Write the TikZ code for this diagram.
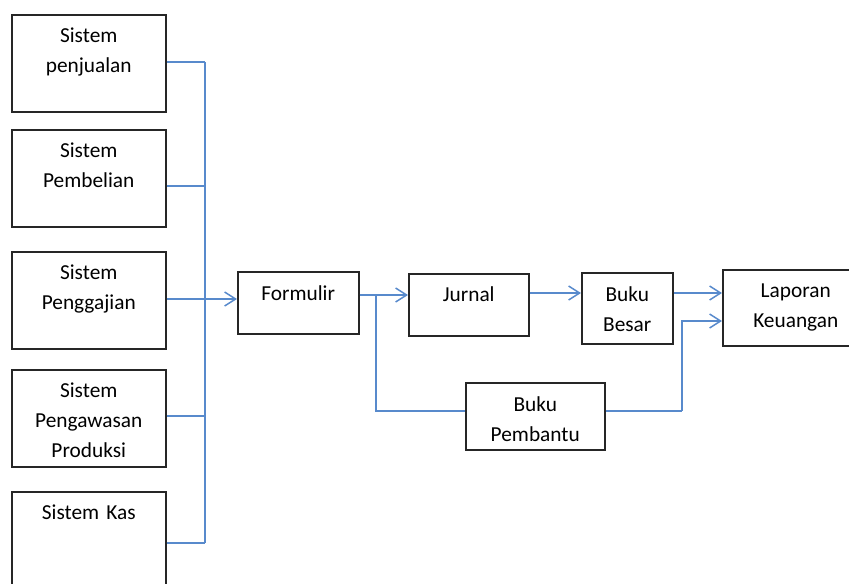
\documentclass[tikz,border=0pt]{standalone}
\usepackage{fontspec}
\setmainfont{Carlito}
\usetikzlibrary{arrows.meta}
\definecolor{garisbiru}{RGB}{88,138,204}

\begin{document}
\begin{tikzpicture}[x=0.75pt,y=-0.75pt]
  \def\f{0.75}

\tikzstyle{kotak}=[draw=black!85,line width=1.5*\f pt,anchor=north west,inner sep=0pt,align=center,font=\fontsize{16}{22.5}\selectfont]
\tikzstyle{garis}=[draw=garisbiru,line width=1.5*\f pt]
\tikzstyle{panah}=[garis,-{Straight Barb[length=11*\f pt,width=14*\f pt,line width=1.5*\f pt]}]
\useasboundingbox (0,0) rectangle (849,583);

\node[kotak][text width=154*\f pt,text height=28*\f pt,text depth=69*\f pt] (S1) at (11,14) {Sistem\\penjualan};
\node[kotak][text width=154*\f pt,text height=28*\f pt,text depth=69*\f pt] (S2) at (11,129) {Sistem\\Pembelian};
\node[kotak][text width=154*\f pt,text height=28*\f pt,text depth=69*\f pt] (S3) at (11,251) {Sistem\\Penggajian};
\node[kotak][text width=154*\f pt,text height=28*\f pt,text depth=69*\f pt] (S4) at (11,369) {Sistem\\Pengawasan\\Produksi};
\node[kotak][text width=154*\f pt,text height=28*\f pt,text depth=92*\f pt] (S5) at (11,491) {Sistem Kas};
\node[kotak][text width=121*\f pt,text height=29*\f pt,text depth=33*\f pt] (F1) at (237,271) {Formulir};
\node[kotak][text width=120*\f pt,text height=28*\f pt,text depth=34*\f pt] (J1) at (408,273) {Jurnal};
\node[kotak][text width=91*\f pt,text height=29*\f pt,text depth=42*\f pt] (B1) at (581,272) {Buku\\Besar};
\node[kotak][text width=146*\f pt,text height=28*\f pt,text depth=48*\f pt] (L1) at (722,269) {Laporan\\Keuangan};
\node[kotak][text width=139*\f pt,text height=29*\f pt,text depth=38*\f pt] (B2) at (465,382) {Buku\\Pembantu};

\coordinate (bus) at (205,0);
\coordinate (cab) at (376,295);
\coordinate (bel) at (682,411);

% sistem ke formulir
\draw[garis] (S1.east |- 0,62) -- (bus |- 0,62);
\draw[garis] (S2.east |- 0,186) -- (bus |- 0,186);
\draw[garis] (S4.east |- 0,416) -- (bus |- 0,416);
\draw[garis] (S5.east |- 0,543) -- (bus |- 0,543);
\draw[garis] (bus |- 0,62) -- (bus |- 0,543);
\draw[panah] (S3.east |- 0,299) -- (F1.west |- 0,299);

% formulir ke laporan
\draw[panah] (F1.east |- 0,295) -- (J1.west |- 0,295);
\draw[garis] (cab) |- (B2.west |- 0,411);
\draw[panah] (J1.east |- 0,293) -- (B1.west |- 0,293);
\draw[panah] (B1.east |- 0,293) -- (L1.west |- 0,293);
\draw[garis] (B2.east |- 0,411) -- (bel);
\draw[panah] (bel) |- (L1.west |- 0,321);
\end{tikzpicture}
\end{document}
